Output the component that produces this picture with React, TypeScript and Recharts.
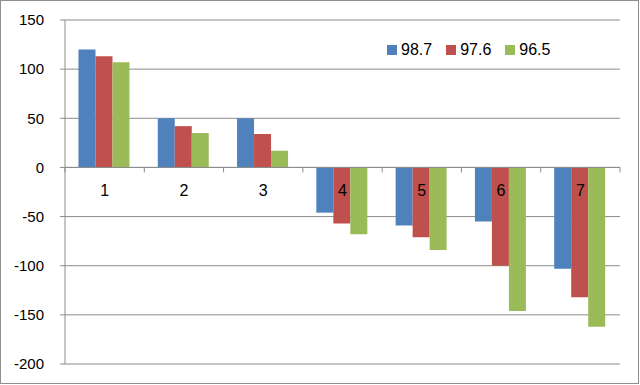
import React from 'react';
import { BarChart, Bar, XAxis, YAxis, CartesianGrid, ReferenceLine, ReferenceDot, Legend } from 'recharts';

const categories = ['1', '2', '3', '4', '5', '6', '7'];
const series987 = [120, 50, 50, -46, -59, -55, -103];
const series976 = [113, 42, 34, -57, -71, -100, -132];
const series965 = [107, 35, 17, -68, -84, -146, -162];
const seriesNames = ['98.7', '97.6', '96.5'];
const seriesColors = ['#4F81BD', '#C0504D', '#9BBB59'];
const yTicks = [-200, -150, -100, -50, 0, 50, 100, 150];

const data = categories.map((c, i) => ({
  name: c,
  s0: series987[i],
  s1: series976[i],
  s2: series965[i],
}));

const FONT = '"Liberation Sans", Arial, sans-serif';
const GRID = '#8c8c8c';

const ZeroAxis = (props: any) => {
  const { x1, x2, y1 } = props;
  const n = categories.length;
  const ticks = [];
  for (let i = 0; i <= n; i++) {
    const x = x1 + ((x2 - x1) * i) / n;
    ticks.push(<line key={i} x1={x} x2={x} y1={y1} y2={y1 + 5} stroke={GRID} strokeWidth={1} />);
  }
  return (
    <g>
      <line x1={x1} x2={x2} y1={y1} y2={y1} stroke={GRID} strokeWidth={1} />
      {ticks}
    </g>
  );
};

const LegendContent = () => (
  <div style={{ display: 'flex', alignItems: 'center', fontFamily: FONT, fontSize: 16, color: '#000' }}>
    {seriesNames.map((n, i) => (
      <div key={n} style={{ display: 'flex', alignItems: 'center', marginRight: 14 }}>
        <span style={{ display: 'inline-block', width: 10, height: 10, background: seriesColors[i], marginRight: 4 }} />
        <span>{n}</span>
      </div>
    ))}
  </div>
);

export default function App() {
  return (
    <div style={{ position: 'absolute', left: 0, top: 0, width: 640, height: 385, background: '#fff' }}>
      <div style={{ position: 'absolute', left: 0, top: 0, width: 639, height: 384, boxSizing: 'border-box', border: '1px solid #8f8f8f' }} />
      <BarChart
        width={640}
        height={385}
        data={data}
        margin={{ top: 20, right: 20, bottom: 21, left: 0 }}
        barCategoryGap="17%"
        barGap={0}
      >
        <CartesianGrid horizontal vertical={false} stroke={GRID} strokeWidth={1} />
        <XAxis dataKey="name" hide />
        <YAxis
          width={65}
          domain={[-200, 150]}
          ticks={yTicks}
          interval={0}
          axisLine={{ stroke: GRID }}
          tickLine={{ stroke: GRID }}
          tickSize={5}
          tickMargin={16}
          tick={{ fill: '#000', fontSize: 15, fontFamily: FONT }}
        />
        <Legend
          verticalAlign="middle"
          align="center"
          layout="horizontal"
          wrapperStyle={{ position: 'absolute', left: 387, top: 41, width: 200 }}
          content={<LegendContent />}
        />
        <Bar dataKey="s0" name={seriesNames[0]} fill={seriesColors[0]} isAnimationActive={false} />
        <Bar dataKey="s1" name={seriesNames[1]} fill={seriesColors[1]} isAnimationActive={false} />
        <Bar dataKey="s2" name={seriesNames[2]} fill={seriesColors[2]} isAnimationActive={false} />
        <ReferenceLine y={0} shape={<ZeroAxis />} />
        {categories.map((c) => (
          <ReferenceDot
            key={c}
            x={c}
            y={0}
            r={0}
            fill="none"
            stroke="none"
            label={{ value: c, position: 'bottom', offset: 17, fill: '#000', fontSize: 16, fontFamily: FONT }}
          />
        ))}
      </BarChart>
    </div>
  );
}
